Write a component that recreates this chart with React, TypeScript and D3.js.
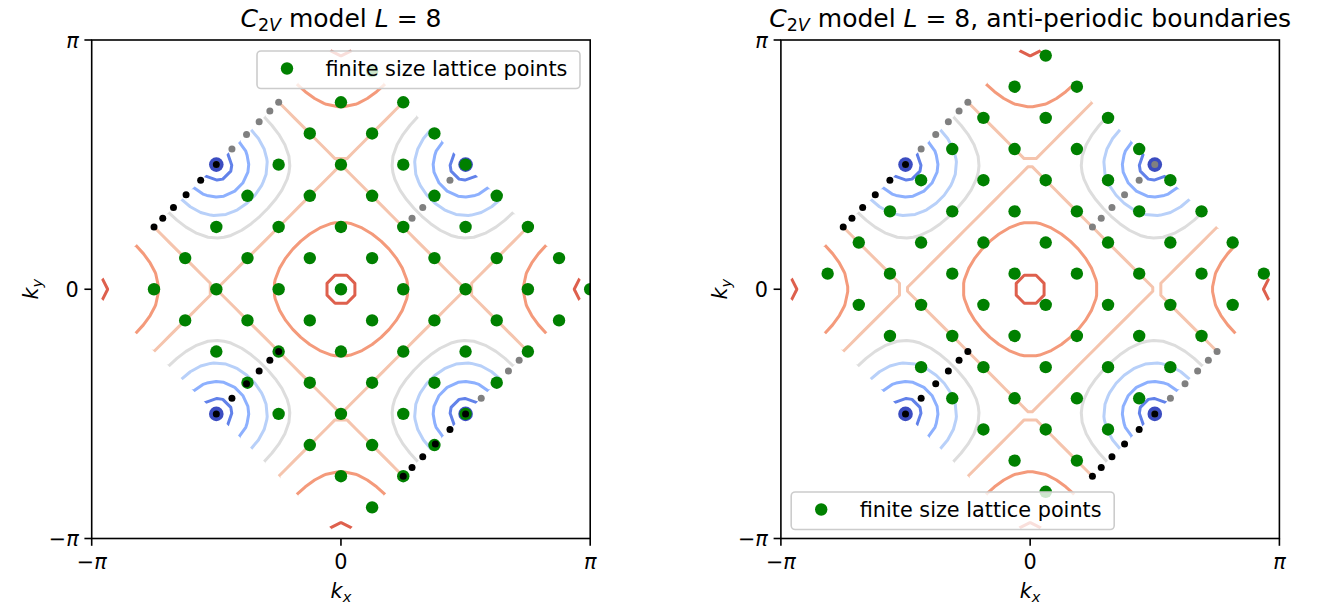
import React from 'react';
import * as d3 from 'd3';

const PI = Math.PI;

// ---------------- data ----------------
// lattice indices (k = n1*b1 + n2*b2, b1 = (pi/8, pi/8), b2 = (pi/8, -pi/8))
const latticeSize = 8;
const latticeN1 = [-3, -2, -1, 0, 1, 2, 3, 4];
const periodicN2 = [-3, -2, -1, 0, 1, 2, 3, 4];
const antiPeriodicN2 = [-3.5, -2.5, -1.5, -0.5, 0.5, 1.5, 2.5, 3.5];

// contour levels of the band energy
const contourLevels = [-0.8, -0.6, -0.4, -0.2, 0.0, 0.2, 0.4];

// band minima (dark blue discs)
const minimaKx = [-1.571, 1.571, -1.571, 1.571];
const minimaKy = [1.571, 1.571, -1.571, -1.571];

// small black / grey dots along the diagonals (radians)
const blackDotsKx = [
  -1.571, -1.768, -1.952, -2.111, -2.246, -2.356,
  -1.571, -1.374, -1.19, -1.031, -0.896, -0.785,
  1.571, 1.374, 1.19, 1.031, 0.896, 0.785,
];
const blackDotsKy = [
  1.571, 1.374, 1.19, 1.031, 0.896, 0.785,
  -1.571, -1.374, -1.19, -1.031, -0.896, -0.785,
  -1.571, -1.768, -1.952, -2.111, -2.246, -2.356,
];
const greyDotsKx = [
  -1.571, -1.374, -1.19, -1.031, -0.896, -0.785,
  1.571, 1.374, 1.19, 1.031, 0.896, 0.785,
  1.571, 1.768, 1.952, 2.111, 2.246, 2.356,
];
const greyDotsKy = [
  1.571, 1.768, 1.952, 2.111, 2.246, 2.356,
  1.571, 1.374, 1.19, 1.031, 0.896, 0.785,
  -1.571, -1.374, -1.19, -1.031, -0.896, -0.785,
];

const tickValues = [-PI, 0, PI];
const tickLabels = ['-pi', '0', 'pi'];

// ---------------- styles ----------------
const minimaColor = 'rgb(59,76,192)';
const levelColors = [
  'rgb(98,130,234)', 'rgb(141,176,254)', 'rgb(184,208,249)',
  'rgb(221,221,221)', 'rgb(245,196,173)', 'rgb(244,154,123)', 'rgb(222,96,77)',
];
const FONT = "'DejaVu Sans', sans-serif";
const AX_Y0 = 40;
const AX_SIZE = 498.5;

// contour field sampling on the Brillouin-zone square in (u, v) = (kx+ky, kx-ky)
const gridN = 32;
const gridStep = (2 * PI) / (gridN - 1);

function band(kx: number, ky: number) {
  const c = (Math.cos(2 * kx) + Math.cos(2 * ky)) / 2;
  return Math.sqrt(Math.max(0, 1 + c)) - 1;
}

function buildContours() {
  const values = new Array(gridN * gridN);
  for (let j = 0; j < gridN; j++) {
    for (let i = 0; i < gridN; i++) {
      const u = -PI + i * gridStep;
      const v = -PI + j * gridStep;
      values[j * gridN + i] = band((u + v) / 2, (u - v) / 2);
    }
  }
  return d3.contours().size([gridN, gridN]).thresholds(contourLevels)(values);
}

const panels = [
  { id: 'p', x0: 91.7, n2: periodicN2, extra: '', legend: 'ur' },
  { id: 'ap', x0: 780.9, n2: antiPeriodicN2, extra: ', anti-periodic boundaries', legend: 'll' },
];

function PiLabel({ label }: { label: string }) {
  if (label === '0') return <tspan>0</tspan>;
  if (label === '-pi') return (<><tspan>{'\u2212'}</tspan><tspan fontStyle="italic">{'\u03c0'}</tspan></>);
  return <tspan fontStyle="italic">{'\u03c0'}</tspan>;
}

function Panel({ p, contours }: { p: any; contours: any[] }) {
  const x = d3.scaleLinear().domain([-PI, PI]).range([p.x0, p.x0 + AX_SIZE]);
  const y = d3.scaleLinear().domain([-PI, PI]).range([AX_Y0 + AX_SIZE, AX_Y0]);
  const proj = d3.geoTransform({
    point(gx: number, gy: number) {
      const u = -PI + (gx - 0.5) * gridStep;
      const v = -PI + (gy - 0.5) * gridStep;
      (this as any).stream.point(x((u + v) / 2), y((u - v) / 2));
    },
  });
  const path = d3.geoPath(proj as any);
  const diamond = [[-PI, 0], [0, PI], [PI, 0], [0, -PI]].map(([a, b]) => `${x(a)},${y(b)}`).join(' ');
  const lattice: [number, number][] = [];
  latticeN1.forEach((n1) => p.n2.forEach((n2: number) => {
    lattice.push([((n1 + n2) * PI) / latticeSize, ((n1 - n2) * PI) / latticeSize]);
  }));
  const cx = p.x0 + AX_SIZE / 2;
  const yB = AX_Y0 + AX_SIZE;
  const leg = p.legend === 'ur' ? { x: 257, y: 51 } : { x: p.x0 + 10.3, y: 492 };
  return (
    <g>
      <defs>
        <clipPath id={`dia-${p.id}`}><polygon points={diamond} /></clipPath>
        <clipPath id={`box-${p.id}`}><rect x={p.x0} y={AX_Y0} width={AX_SIZE} height={AX_SIZE} /></clipPath>
      </defs>
      <g clipPath={`url(#dia-${p.id})`}>
        {contours.map((c, i) => (
          <path key={i} d={path(c) || ''} fill="none" stroke={levelColors[i]} strokeWidth={3} strokeLinejoin="round" />
        ))}
      </g>
      <g clipPath={`url(#box-${p.id})`}>
        {minimaKx.map((kx, i) => (
          <circle key={'m' + i} cx={x(kx)} cy={y(minimaKy[i])} r={7.3} fill={minimaColor} />
        ))}
        {greyDotsKx.map((kx, i) => (
          <circle key={'g' + i} cx={x(kx)} cy={y(greyDotsKy[i])} r={3.5} fill="#808080" />
        ))}
        {lattice.map(([kx, ky], i) => (
          <circle key={'l' + i} cx={x(kx)} cy={y(ky)} r={6.2} fill="#008000" />
        ))}
        {blackDotsKx.map((kx, i) => (
          <circle key={'b' + i} cx={x(kx)} cy={y(blackDotsKy[i])} r={3.5} fill="#000000" />
        ))}
      </g>
      <rect x={p.x0} y={AX_Y0} width={AX_SIZE} height={AX_SIZE} fill="none" stroke="#000" strokeWidth={1.6} />
      {tickValues.map((v, i) => (
        <g key={'xt' + i}>
          <line x1={x(v)} x2={x(v)} y1={yB} y2={yB + 7.3} stroke="#000" strokeWidth={1.6} />
          <text x={x(v)} y={yB + 30} textAnchor="middle" fontSize={20.8} fontFamily={FONT}>
            <PiLabel label={tickLabels[i]} />
          </text>
          <line x1={p.x0} x2={p.x0 - 7.3} y1={y(v)} y2={y(v)} stroke="#000" strokeWidth={1.6} />
          <text x={p.x0 - 13} y={y(v) + 7.5} textAnchor="end" fontSize={20.8} fontFamily={FONT}>
            <PiLabel label={tickLabels[i]} />
          </text>
        </g>
      ))}
      <text x={cx} y={598} textAnchor="middle" fontSize={20.8} fontFamily={FONT}>
        <tspan fontStyle="italic">k</tspan>
        <tspan fontStyle="italic" fontSize={14.6} dy={4}>x</tspan>
      </text>
      <text transform={`translate(${p.x0 - 54},${AX_Y0 + AX_SIZE / 2}) rotate(-90)`} textAnchor="middle" fontSize={20.8} fontFamily={FONT}>
        <tspan fontStyle="italic">k</tspan>
        <tspan fontStyle="italic" fontSize={14.6} dy={4}>y</tspan>
      </text>
      <text x={cx} y={27} textAnchor="middle" fontSize={25} fontFamily={FONT} style={{ whiteSpace: 'pre' }}>
        <tspan fontStyle="italic">C</tspan>
        <tspan fontSize={17.5} dy={4}>2</tspan>
        <tspan fontSize={17.5} fontStyle="italic">V</tspan>
        <tspan dy={-4}> model </tspan>
        <tspan fontStyle="italic">L</tspan>
        <tspan> = 8{p.extra}</tspan>
      </text>
      <g>
        <rect x={leg.x} y={leg.y} width={323} height={37.5} rx={4} fill="#fff" fillOpacity={0.8} stroke="#cccccc" strokeWidth={1.6} />
        <circle cx={leg.x + 30} cy={leg.y + 17.5} r={6.2} fill="#008000" />
        <text x={leg.x + 68.5} y={leg.y + 25} fontSize={20.8} fontFamily={FONT}>finite size lattice points</text>
      </g>
    </g>
  );
}

export default function App() {
  const contours = React.useMemo(() => buildContours(), []);
  return (
    <svg width={1319} height={612} style={{ position: 'absolute', left: 0, top: 0, background: '#fff' }}>
      <rect width={1319} height={612} fill="#fff" />
      {panels.map((p) => <Panel key={p.id} p={p} contours={contours} />)}
    </svg>
  );
}
